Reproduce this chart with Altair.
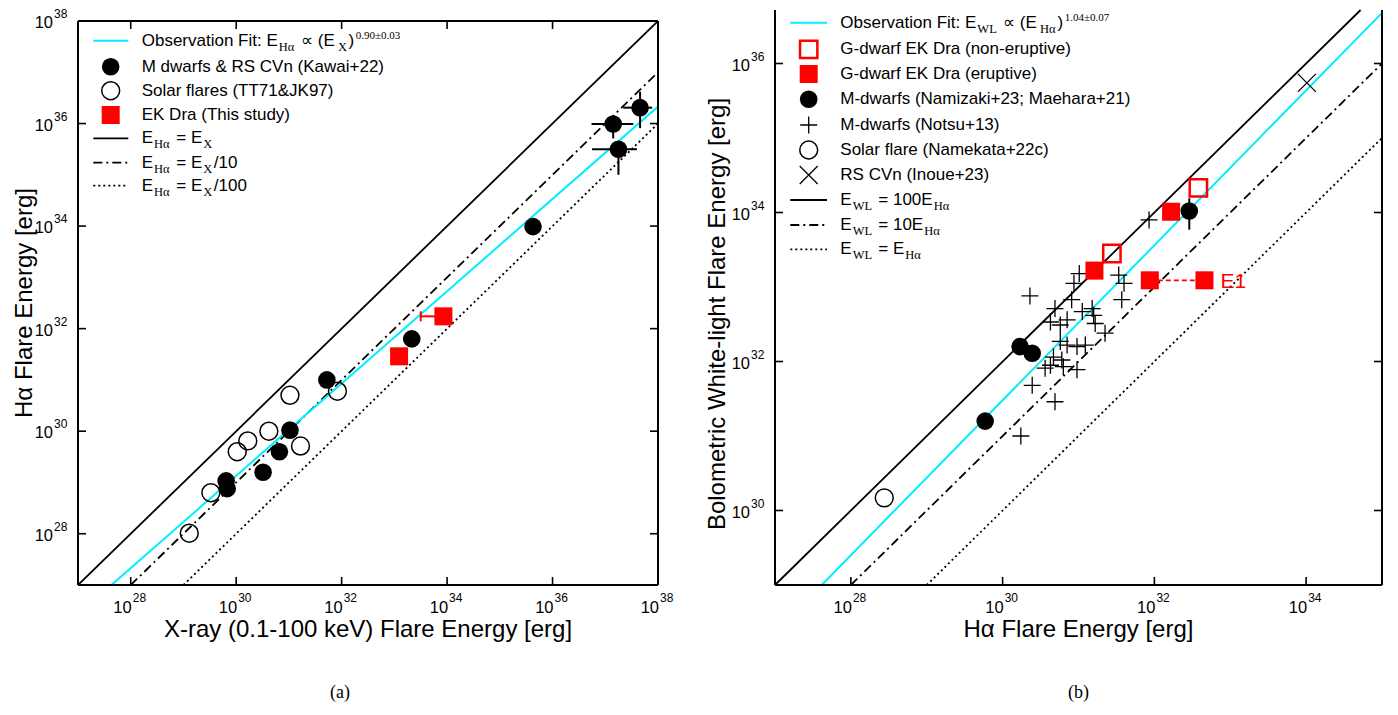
import altair as alt
import pandas as pd

SANS = "Liberation Sans"
SERIF = "Liberation Serif"
CYAN = "#00EEFF"
RED = "#FF0000"

# ---------------- Panel (a) data : log10(E / erg) ----------------
A_KAWAI_LOGX = [31.72, 31.02, 30.82, 30.51, 29.81, 29.83, 33.33, 35.63, 37.15, 37.66, 37.25]
A_KAWAI_LOGY = [31.00, 30.02, 29.60, 29.20, 29.03, 28.88, 31.80, 33.99, 35.99, 36.31, 35.50]
A_ERR_LOGX = [37.15, 37.66, 37.25]
A_ERR_LOGY = [35.99, 36.31, 35.50]
A_ERR_XLO = [36.74, 37.34, 36.75]
A_ERR_XHI = [37.53, 37.89, 37.60]
A_ERR_YLO = [35.71, 35.91, 35.00]
A_ERR_YHI = [36.16, 36.62, 35.61]
A_SOLAR_LOGX = [31.02, 31.92, 30.62, 30.22, 30.02, 31.22, 29.52, 29.11]
A_SOLAR_LOGY = [30.70, 30.78, 30.00, 29.81, 29.60, 29.71, 28.80, 28.01]
A_EKDRA_LOGX = [33.09, 33.93]
A_EKDRA_LOGY = [31.46, 32.24]
A_EKDRA_ERR_XLO = [33.50]
A_EKDRA_ERR_XHI = [33.93]
A_EKDRA_ERR_Y = [32.24]
A_FIT_SLOPE, A_FIT_ICPT = 0.90, 2.13
A_REL_OFFSETS = [0, -1, -2]          # E_Ha = E_X, E_X/10, E_X/100
A_TICKS = [28, 30, 32, 34, 36, 38]
A_DOM = [27, 38]

# ---------------- Panel (b) data : log10(E / erg) ----------------
B_ERUPT_LOGX = [31.21, 31.94, 32.66, 32.22]
B_ERUPT_LOGY = [33.22, 33.09, 33.09, 34.01]
B_NONERUPT_LOGX = [31.44, 32.58]
B_NONERUPT_LOGY = [33.45, 34.33]
B_MDW_LOGX = [30.23, 30.39, 29.77, 32.46]
B_MDW_LOGY = [32.20, 32.11, 31.20, 34.02]
B_MDW_ERR_X = [32.46]
B_MDW_ERR_YLO = [33.77]
B_MDW_ERR_YHI = [34.19]
B_NOTSU_LOGX = [30.36, 31.01, 30.94, 30.91, 30.69, 30.63, 30.76, 30.85, 31.05, 31.18,
                31.20, 31.22, 31.35, 31.53, 31.60, 31.57, 30.76, 30.85, 30.98, 31.09,
                30.67, 30.78, 30.63, 30.80, 30.98, 30.56, 30.39, 30.69, 31.93, 30.24]
B_NOTSU_LOGY = [32.88, 33.18, 33.05, 32.83, 32.71, 32.53, 32.49, 32.56, 32.67, 32.71,
                32.62, 32.51, 32.38, 33.16, 33.05, 32.83, 32.27, 32.22, 32.20, 32.22,
                32.06, 32.02, 31.95, 31.93, 31.89, 31.91, 31.68, 31.46, 33.90, 31.00]
B_SOLAR_LOGX = [28.44]
B_SOLAR_LOGY = [30.17]
B_RSCVN_LOGX = [34.01]
B_RSCVN_LOGY = [35.74]
B_E1_XLO, B_E1_XHI, B_E1_Y = [31.94], [32.66], [33.09]
B_FIT_SLOPE, B_FIT_ICPT = 1.04, 0.28
B_REL_OFFSETS = [2, 1, 0]            # E_WL = 100 E_Ha, 10 E_Ha, E_Ha
B_TICKS_X = [28, 30, 32, 34]
B_TICKS_Y = [30, 32, 34, 36]
B_DOM_X = [27, 35]
B_DOM_Y = [29, 36.5705]
B_LINE_TOP = 36.718                  # relation lines continue up to the (cut-off) page edge

# ---------------- layout constants ----------------
W_A, H_A = 580, 564
W_B, H_B = 607, 564
TOP_A, TOP_B = 21, 21         # page y of plot tops
LEFT_A, LEFT_B = 78, 773      # page x of plot lefts
B_OVER = 11                   # right panel frame runs above its plot area (cut-off top)
TITLE_FS = 24

PLUS = "M-1,0L1,0M0,-1L0,1"
CROSS = "M-1,-1L1,1M-1,1L1,-1"
VBAR = "M0,-1L0,1"
DASHDOT = [9, 4, 2, 4]
DOTTED = [2, 3]

ONE = pd.DataFrame({"k": [0]})

ARIAL = {' ': 278, '!': 278, '&': 667, '(': 333, ')': 333, '+': 584, ',': 278, '-': 333,
         '.': 278, '/': 278, ':': 278, ';': 278, '=': 584, '[': 278, ']': 278,
         'A': 667, 'B': 667, 'C': 722, 'D': 722, 'E': 667, 'F': 611, 'G': 778, 'H': 722,
         'I': 278, 'K': 667, 'L': 556, 'M': 833, 'N': 722, 'O': 778, 'R': 722, 'S': 667,
         'T': 611, 'V': 667, 'W': 944, 'X': 667, 'a': 556, 'b': 556, 'c': 500, 'd': 556,
         'e': 556, 'f': 278, 'g': 556, 'h': 556, 'i': 222, 'k': 500, 'l': 222, 'm': 833,
         'n': 556, 'o': 556, 'p': 556, 'r': 333, 's': 500, 't': 278, 'u': 556, 'v': 500,
         'w': 722, 'y': 500, 'z': 500, '\u03b1': 578, '\u221d': 840}
TIMES = {' ': 250, '.': 250, '\u00b1': 564, 'H': 722, 'X': 722, 'W': 944, 'L': 611,
         '\u03b1': 560}


def tw(s, size, table):
    return sum(table.get(c, 556 if c.isdigit() or table is ARIAL else 500) for c in s) * size / 1000.0


FS_N, FS_SUB, FS_SUP = 17, 12.5, 11


def seg_rows(segments, x0, y0):
    rows = []
    x = x0
    for text, kind in segments:
        if kind == "n":
            lead = len(text) - len(text.lstrip())
            x += lead * tw(" ", FS_N, ARIAL)
            rows.append(dict(px=x, py=y0, t=text.strip(), k="n"))
            x += tw(text.lstrip(), FS_N, ARIAL)
        elif kind == "sub":
            x += 1
            rows.append(dict(px=x, py=y0 + 6, t=text, k="sub"))
            x += tw(text, FS_SUB, TIMES) + 1.5
        else:
            x += 1.5
            rows.append(dict(px=x, py=y0 - 5, t=text, k="sup"))
            x += tw(text, FS_SUP, TIMES)
    return rows


def legend_text_layers(rows):
    df = pd.DataFrame(rows)
    out = []
    for k, font, size in [("n", SANS, FS_N), ("sub", SERIF, FS_SUB), ("sup", SERIF, FS_SUP)]:
        d = df[df["k"] == k]
        if len(d) == 0:
            continue
        out.append(alt.Chart(d).mark_text(align="left", baseline="middle", font=font,
                                          fontSize=size, color="black").encode(
            x=alt.X("px:Q", scale=None, axis=None),
            y=alt.Y("py:Q", scale=None, axis=None),
            text=alt.Text("t:N")))
    return out


def lscale(dom):
    return alt.Scale(type="log", domain=[10 ** dom[0], 10 ** dom[1]], nice=False, zero=False)


def pts(lx, ly, xs, ys, **mk):
    df = pd.DataFrame({"x": [10 ** v for v in lx], "y": [10 ** v for v in ly]})
    return alt.Chart(df).mark_point(opacity=1, **mk).encode(
        x=alt.X("x:Q", scale=xs, axis=None), y=alt.Y("y:Q", scale=ys, axis=None))


def rel_line(dom_x, dom_y, slope, icpt, xs, ys, clip=True, **mk):
    # log-space straight line y = slope*x + icpt, cut to the given box
    xa = (dom_y[0] - icpt) / slope
    xb = (dom_y[1] - icpt) / slope
    x0 = max(dom_x[0], min(xa, xb))
    x1 = min(dom_x[1], max(xa, xb))
    df = pd.DataFrame({"x": [10 ** x0, 10 ** x1],
                       "y": [10 ** (slope * x0 + icpt), 10 ** (slope * x1 + icpt)]})
    return alt.Chart(df).mark_line(clip=clip, strokeJoin="round", **mk).encode(
        x=alt.X("x:Q", scale=xs, axis=None), y=alt.Y("y:Q", scale=ys, axis=None))


def hrules(lo, hi, yv, xs, ys, **mk):
    df = pd.DataFrame({"a": [10 ** v for v in lo], "b": [10 ** v for v in hi],
                       "y": [10 ** v for v in yv]})
    return alt.Chart(df).mark_rule(**mk).encode(
        x=alt.X("a:Q", scale=xs, axis=None), x2="b:Q", y=alt.Y("y:Q", scale=ys, axis=None))


def vrules(xv, lo, hi, xs, ys, **mk):
    df = pd.DataFrame({"x": [10 ** v for v in xv], "a": [10 ** v for v in lo],
                       "b": [10 ** v for v in hi]})
    return alt.Chart(df).mark_rule(**mk).encode(
        x=alt.X("x:Q", scale=xs, axis=None), y=alt.Y("a:Q", scale=ys, axis=None), y2="b:Q")


def tick_df(vals):
    return pd.DataFrame({"v": [10.0 ** e for e in vals], "e": [str(e) for e in vals]})


def ticks_and_labels(tx, ty, W, H, xs, ys, sides):
    out = []
    dx, dy = tick_df(tx), tick_df(ty)
    X = alt.X("v:Q", scale=xs, axis=None)
    Y = alt.Y("v:Q", scale=ys, axis=None)
    rk = dict(color="black", strokeWidth=1.6)
    if "bottom" in sides:
        out.append(alt.Chart(dx).mark_rule(**rk).encode(x=X, y=alt.value(H), y2=alt.value(H - 8)))
    if "top" in sides:
        out.append(alt.Chart(dx).mark_rule(**rk).encode(x=X, y=alt.value(0), y2=alt.value(8)))
    if "left" in sides:
        out.append(alt.Chart(dy).mark_rule(**rk).encode(y=Y, x=alt.value(0), x2=alt.value(8)))
    if "right" in sides:
        out.append(alt.Chart(dy).mark_rule(**rk).encode(y=Y, x=alt.value(W), x2=alt.value(W - 8)))
    out.append(alt.Chart(dx).mark_text(align="right", baseline="middle", font=SANS, fontSize=16.5,
                                       dx=1, color="black").encode(
        x=X, y=alt.value(H + 23), text=alt.value("10")))
    out.append(alt.Chart(dx).mark_text(align="left", baseline="middle", font=SANS, fontSize=12,
                                       dx=2, color="black").encode(
        x=X, y=alt.value(H + 13), text=alt.Text("e:N")))
    out.append(alt.Chart(dy).mark_text(align="right", baseline="middle", font=SANS, fontSize=16.5,
                                       dy=2, color="black").encode(
        y=Y, x=alt.value(-25), text=alt.value("10")))
    out.append(alt.Chart(dy).mark_text(align="left", baseline="middle", font=SANS, fontSize=12,
                                       dy=-7, color="black").encode(
        y=Y, x=alt.value(-24), text=alt.Text("e:N")))
    return out


def borders(W, H, sides, top=0):
    out = []
    rk = dict(color="black", strokeWidth=2)
    if "bottom" in sides:
        out.append(alt.Chart(ONE).mark_rule(**rk).encode(x=alt.value(0), x2=alt.value(W), y=alt.value(H)))
    if "top" in sides:
        out.append(alt.Chart(ONE).mark_rule(**rk).encode(x=alt.value(0), x2=alt.value(W), y=alt.value(top)))
    if "left" in sides:
        out.append(alt.Chart(ONE).mark_rule(**rk).encode(x=alt.value(0), y=alt.value(top), y2=alt.value(H)))
    if "right" in sides:
        out.append(alt.Chart(ONE).mark_rule(**rk).encode(x=alt.value(W), y=alt.value(top), y2=alt.value(H)))
    return out


def titles(xtitle, ytitle, W, H, ytx, xty, yty):
    return [
        alt.Chart(ONE).mark_text(font=SANS, fontSize=TITLE_FS, color="black", baseline="middle",
                                 align="center").encode(
            x=alt.value(W / 2), y=alt.value(H + xty), text=alt.value(xtitle)),
        alt.Chart(ONE).mark_text(font=SANS, fontSize=TITLE_FS, color="black", baseline="middle",
                                 align="center", angle=270).encode(
            x=alt.value(ytx), y=alt.value(yty), text=alt.value(ytitle)),
    ]


def leg_line(x0, x1, y, **mk):
    return alt.Chart(ONE).mark_rule(**mk).encode(x=alt.value(x0), x2=alt.value(x1), y=alt.value(y))


def leg_sym(x, y, **mk):
    return alt.Chart(ONE).mark_point(opacity=1, **mk).encode(x=alt.value(x), y=alt.value(y))


# ====================== Panel (a) ======================
xa, ya = lscale(A_DOM), lscale(A_DOM)
la = []
la.append(rel_line(A_DOM, A_DOM, 1, A_REL_OFFSETS[0], xa, ya, color="black", strokeWidth=1.8))
la.append(rel_line(A_DOM, A_DOM, 1, A_REL_OFFSETS[1], xa, ya, color="black", strokeWidth=1.8,
                   strokeDash=DASHDOT))
la.append(rel_line(A_DOM, A_DOM, 1, A_REL_OFFSETS[2], xa, ya, color="black", strokeWidth=1.8,
                   strokeDash=DOTTED))
la.append(rel_line(A_DOM, A_DOM, A_FIT_SLOPE, A_FIT_ICPT, xa, ya, color=CYAN, strokeWidth=2))
la.append(hrules(A_ERR_XLO, A_ERR_XHI, A_ERR_LOGY, xa, ya, color="black", strokeWidth=2))
la.append(vrules(A_ERR_LOGX, A_ERR_YLO, A_ERR_YHI, xa, ya, color="black", strokeWidth=2))
la.append(hrules(A_EKDRA_ERR_XLO, A_EKDRA_ERR_XHI, A_EKDRA_ERR_Y, xa, ya, color=RED, strokeWidth=2))
la.append(pts(A_EKDRA_ERR_XLO, A_EKDRA_ERR_Y, xa, ya, shape=VBAR, filled=False, stroke=RED,
              strokeWidth=2, size=100))
la.append(pts(A_SOLAR_LOGX, A_SOLAR_LOGY, xa, ya, shape="circle", filled=False, stroke="black",
              strokeWidth=1.5, size=320))
la.append(pts(A_KAWAI_LOGX, A_KAWAI_LOGY, xa, ya, shape="circle", filled=True, fill="black",
              strokeWidth=0, size=310))
la.append(pts(A_EKDRA_LOGX, A_EKDRA_LOGY, xa, ya, shape="square", filled=True, fill=RED,
              strokeWidth=0, size=324))
la += ticks_and_labels(A_TICKS, A_TICKS, W_A, H_A, xa, ya, ["bottom", "top", "left", "right"])
la += borders(W_A, H_A, ["bottom", "top", "left", "right"])
la += titles("X-ray (0.1-100 keV) Flare Energy [erg]", "H\u03b1 Flare Energy [erg]",
             W_A, H_A, -53, 45, 303 - TOP_A)

LEG_A_Y = [40.7, 66.7, 90.7, 115, 138.3, 162.7, 185.7]
LEG_A_Y = [v - TOP_A for v in LEG_A_Y]
LEG_A_SX, LEG_A_L0, LEG_A_L1, LEG_A_TX = 32.7, 15.3, 50.3, 63.7
LEG_A_TEXT = [
    [("Observation Fit: E", "n"), ("H\u03b1", "sub"), (" \u221d (E", "n"), ("X", "sub"), (")", "n"),
     ("0.90\u00b10.03", "sup")],
    [("M dwarfs & RS CVn (Kawai+22)", "n")],
    [("Solar flares (TT71&JK97)", "n")],
    [("EK Dra (This study)", "n")],
    [("E", "n"), ("H\u03b1", "sub"), (" = E", "n"), ("X", "sub")],
    [("E", "n"), ("H\u03b1", "sub"), (" = E", "n"), ("X", "sub"), ("/10", "n")],
    [("E", "n"), ("H\u03b1", "sub"), (" = E", "n"), ("X", "sub"), ("/100", "n")],
]
rows = []
for i, segs in enumerate(LEG_A_TEXT):
    rows += seg_rows(segs, LEG_A_TX, LEG_A_Y[i])
la += legend_text_layers(rows)
la.append(leg_line(LEG_A_L0, LEG_A_L1, LEG_A_Y[0], color=CYAN, strokeWidth=2))
la.append(leg_sym(LEG_A_SX, LEG_A_Y[1], shape="circle", filled=True, fill="black", strokeWidth=0, size=310))
la.append(leg_sym(LEG_A_SX, LEG_A_Y[2], shape="circle", filled=False, stroke="black", strokeWidth=1.5, size=320))
la.append(leg_sym(LEG_A_SX, LEG_A_Y[3], shape="square", filled=True, fill=RED, strokeWidth=0, size=324))
la.append(leg_line(LEG_A_L0, LEG_A_L1, LEG_A_Y[4], color="black", strokeWidth=1.8))
la.append(leg_line(LEG_A_L0, LEG_A_L1, LEG_A_Y[5], color="black", strokeWidth=1.8, strokeDash=DASHDOT))
la.append(leg_line(LEG_A_L0, LEG_A_L1, LEG_A_Y[6], color="black", strokeWidth=1.8, strokeDash=DOTTED))
la.append(alt.Chart(ONE).mark_text(font=SERIF, fontSize=18, color="black", baseline="middle").encode(
    x=alt.value(340 - LEFT_A), y=alt.value(693 - TOP_A), text=alt.value("(a)")))

chart_a = alt.layer(*la).properties(width=W_A, height=H_A)

# ====================== Panel (b) ======================
xb, yb = lscale(B_DOM_X), lscale(B_DOM_Y)
LINE_BOX_B = [B_DOM_Y[0], B_LINE_TOP]
lb = []
lb.append(rel_line(B_DOM_X, LINE_BOX_B, 1, B_REL_OFFSETS[0], xb, yb, clip=False, color="black",
                   strokeWidth=1.8))
lb.append(rel_line(B_DOM_X, LINE_BOX_B, 1, B_REL_OFFSETS[1], xb, yb, clip=False, color="black",
                   strokeWidth=1.8, strokeDash=DASHDOT))
lb.append(rel_line(B_DOM_X, LINE_BOX_B, 1, B_REL_OFFSETS[2], xb, yb, clip=False, color="black",
                   strokeWidth=1.8, strokeDash=DOTTED))
lb.append(rel_line(B_DOM_X, LINE_BOX_B, B_FIT_SLOPE, B_FIT_ICPT, xb, yb, clip=False, color=CYAN,
                   strokeWidth=2))
lb.append(hrules(B_E1_XLO, B_E1_XHI, B_E1_Y, xb, yb, color=RED, strokeWidth=1.8, strokeDash=[5, 3]))
lb.append(vrules(B_MDW_ERR_X, B_MDW_ERR_YLO, B_MDW_ERR_YHI, xb, yb, color="black", strokeWidth=2))
lb.append(pts(B_NOTSU_LOGX, B_NOTSU_LOGY, xb, yb, shape=PLUS, filled=False, stroke="black",
              strokeWidth=1.3, size=289))
lb.append(pts(B_SOLAR_LOGX, B_SOLAR_LOGY, xb, yb, shape="circle", filled=False, stroke="black",
              strokeWidth=1.5, size=320))
lb.append(pts(B_RSCVN_LOGX, B_RSCVN_LOGY, xb, yb, shape=CROSS, filled=False, stroke="black",
              strokeWidth=1.3, size=324))
lb.append(pts(B_MDW_LOGX, B_MDW_LOGY, xb, yb, shape="circle", filled=True, fill="black",
              strokeWidth=0, size=310))
lb.append(pts(B_NONERUPT_LOGX, B_NONERUPT_LOGY, xb, yb, shape="square", filled=False, stroke=RED,
              strokeWidth=2.5, size=300))
lb.append(pts(B_ERUPT_LOGX, B_ERUPT_LOGY, xb, yb, shape="square", filled=True, fill=RED,
              strokeWidth=0, size=324))
e1 = pd.DataFrame({"x": [10 ** v for v in B_E1_XHI], "y": [10 ** v for v in B_E1_Y]})
lb.append(alt.Chart(e1).mark_text(align="left", baseline="middle", font=SANS, fontSize=21,
                                  color=RED, dx=16, dy=2).encode(
    x=alt.X("x:Q", scale=xb, axis=None), y=alt.Y("y:Q", scale=yb, axis=None),
    text=alt.value("E1")))
lb += ticks_and_labels(B_TICKS_X, B_TICKS_Y, W_B, H_B, xb, yb, ["bottom", "left", "right"])
lb += borders(W_B, H_B, ["bottom", "left", "right"], top=-B_OVER)
lb += titles("H\u03b1 Flare Energy [erg]", "Bolometric White-light Flare Energy [erg]",
             W_B, H_B, -57, 45, 314 - TOP_B)

LEG_B_Y = [22.7, 49.3, 74, 99.3, 125, 150, 175, 200, 225, 249.3]
LEG_B_Y = [v - TOP_B for v in LEG_B_Y]
LEG_B_SX, LEG_B_L0, LEG_B_L1, LEG_B_TX = 33.7, 15.3, 52, 65.3
LEG_B_TEXT = [
    [("Observation Fit: E", "n"), ("WL", "sub"), (" \u221d (E", "n"), ("H\u03b1", "sub"), (")", "n"),
     ("1.04\u00b10.07", "sup")],
    [("G-dwarf EK Dra (non-eruptive)", "n")],
    [("G-dwarf EK Dra (eruptive)", "n")],
    [("M-dwarfs (Namizaki+23; Maehara+21)", "n")],
    [("M-dwarfs (Notsu+13)", "n")],
    [("Solar flare (Namekata+22c)", "n")],
    [("RS CVn (Inoue+23)", "n")],
    [("E", "n"), ("WL", "sub"), (" = 100E", "n"), ("H\u03b1", "sub")],
    [("E", "n"), ("WL", "sub"), (" = 10E", "n"), ("H\u03b1", "sub")],
    [("E", "n"), ("WL", "sub"), (" = E", "n"), ("H\u03b1", "sub")],
]
rows = []
for i, segs in enumerate(LEG_B_TEXT):
    rows += seg_rows(segs, LEG_B_TX, LEG_B_Y[i])
lb += legend_text_layers(rows)
lb.append(leg_line(LEG_B_L0, LEG_B_L1, LEG_B_Y[0], color=CYAN, strokeWidth=2))
lb.append(leg_sym(LEG_B_SX, LEG_B_Y[1], shape="square", filled=False, stroke=RED, strokeWidth=2.5, size=300))
lb.append(leg_sym(LEG_B_SX, LEG_B_Y[2], shape="square", filled=True, fill=RED, strokeWidth=0, size=324))
lb.append(leg_sym(LEG_B_SX, LEG_B_Y[3], shape="circle", filled=True, fill="black", strokeWidth=0, size=310))
lb.append(leg_sym(LEG_B_SX, LEG_B_Y[4], shape=PLUS, filled=False, stroke="black", strokeWidth=1.3, size=289))
lb.append(leg_sym(LEG_B_SX, LEG_B_Y[5], shape="circle", filled=False, stroke="black", strokeWidth=1.5, size=320))
lb.append(leg_sym(LEG_B_SX, LEG_B_Y[6], shape=CROSS, filled=False, stroke="black", strokeWidth=1.3, size=324))
lb.append(leg_line(LEG_B_L0, LEG_B_L1, LEG_B_Y[7], color="black", strokeWidth=1.8))
lb.append(leg_line(LEG_B_L0, LEG_B_L1, LEG_B_Y[8], color="black", strokeWidth=1.8, strokeDash=DASHDOT))
lb.append(leg_line(LEG_B_L0, LEG_B_L1, LEG_B_Y[9], color="black", strokeWidth=1.8, strokeDash=DOTTED))
lb.append(alt.Chart(ONE).mark_text(font=SERIF, fontSize=18, color="black", baseline="middle").encode(
    x=alt.value(W_B / 2), y=alt.value(693 - TOP_B), text=alt.value("(b)")))

chart_b = alt.layer(*lb).properties(width=W_B, height=H_B)

chart = alt.concat(chart_a, chart_b, columns=2, align="none", spacing=31).properties(
    padding={"left": 5, "top": 0, "right": 0, "bottom": 0}
).configure_view(strokeWidth=0)

chart.save("out.html", embed_options={"renderer": "svg", "actions": False})
